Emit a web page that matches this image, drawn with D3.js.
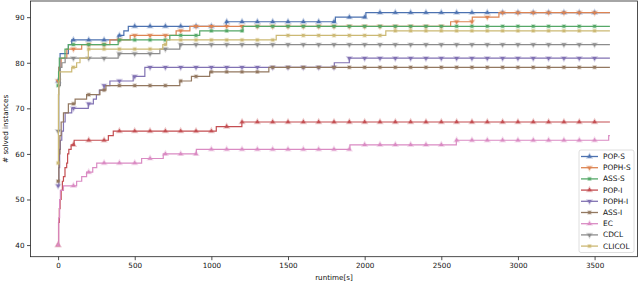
<!DOCTYPE html>
<html>
<head>
<meta charset="utf-8">
<script src="https://cdn.jsdelivr.net/npm/d3@7"></script>
<style>
  body { margin: 0; background: #fff; }
  text { font-family: "DejaVu Sans", sans-serif; }
</style>
</head>
<body>
<div id="chart"></div>
<script>
// solver names, in legend order
const names = ["POP-S", "POPH-S", "ASS-S", "POP-I", "POPH-I", "ASS-I", "EC", "CDCL", "CLICOL"];
const colors = ["#4C72B0", "#DD8452", "#55A868", "#C44E52", "#8172B3", "#937860", "#DA8BC3", "#8C8C8C", "#CCB974"];
const markers = ["up", "down", "square", "up", "down", "square", "up", "down", "square"];

// [runtime, solved] change points of each step curve
const popS = [[0,76],[5,79],[13,82],[67,84],[89,85],[392,86],[429,87],[458,88],[1097,89],[1809,90],[2008,91]];
const pophS = [[0,76],[5,79],[20,81],[57,83],[154,84],[338,85],[470,86],[770,87],[860,88],[2561,89],[2702,90],[2876,91]];
const assS = [[0,75],[3,78],[8,81],[45,83],[67,84],[392,85],[729,86],[924,87],[1206,88]];
const popI = [[0,40],[3,45],[8,48],[13,50],[20,52],[28,54],[35,55],[45,57],[56,58],[62,60],[70,61],[85,62],[105,63],[328,64],[360,65],[1032,66],[1199,67]];
const pophI = [[0,53],[5,57],[10,61],[15,63],[24,65],[35,67],[46,69],[89,70],[197,71],[230,72],[250,73],[269,74],[300,75],[338,76],[490,77],[566,79],[1802,80],[1900,81]];
const assI = [[0,54],[5,60],[12,64],[20,67],[35,69],[67,71],[111,72],[186,73],[273,74],[312,75],[794,76],[870,77],[989,78],[1375,79]];
const ec = [[0,40],[4,46],[10,50],[15,52],[35,53],[121,54],[154,55],[186,56],[226,57],[252,58],[545,59],[686,60],[902,61],[1904,62],[2598,63],[3592,64]];
const cdcl = [[0,65],[5,75],[15,79],[25,80],[46,81],[392,82],[664,83],[794,84]];
const clicol = [[0,58],[2,73],[5,76],[10,78],[89,79],[121,80],[143,81],[197,83],[683,84],[707,85],[1423,86],[2138,87]];

const seriesData = [popS, pophS, assS, popI, pophI, assI, ec, cdcl, clicol];
const timeLimit = 3600;
const markTimes = d3.range(0, 3600, 100);
const xTicks = [0, 500, 1000, 1500, 2000, 2500, 3000, 3500];
const yTicks = [40, 50, 60, 70, 80, 90];

const W = 640, H = 284;
const margin = { top: 1, right: 2.5, bottom: 27.3, left: 30.5 },
    width = W - margin.left - margin.right,
    height = H - margin.top - margin.bottom;

const svg = d3.select("#chart").append("svg")
    .attr("width", W).attr("height", H);
const g = svg.append("g")
    .attr("transform", `translate(${margin.left}, ${margin.top})`);

const x = d3.scaleLinear().domain([-180, 3780]).range([0, width]);
const y = d3.scaleLinear().domain([37.45, 93.55]).range([height, 0]);

// axes
const xAxis = g.append("g")
    .attr("transform", `translate(0, ${height})`)
    .call(d3.axisBottom(x).tickValues(xTicks).tickFormat(d3.format("d"))
        .tickSize(3.5).tickSizeOuter(0).tickPadding(2.5));
const yAxis = g.append("g")
    .call(d3.axisLeft(y).tickValues(yTicks).tickFormat(d3.format("d"))
        .tickSize(3.5).tickSizeOuter(0).tickPadding(2.5));
[xAxis, yAxis].forEach(a => {
    a.select(".domain").remove();
    a.selectAll("line").attr("stroke", "#222").attr("stroke-width", 0.8);
    a.selectAll("text").attr("font-size", 7.2).attr("fill", "#111")
        .style("font-family", "DejaVu Sans");
});

const symbolFor = m => d3.symbol().type(m === "square" ? d3.symbolSquare : d3.symbolTriangle).size(m === "square" ? 7 : 8)();
const rotFor = m => m === "down" ? " rotate(180)" : "";

function valueAt(pts, t) {
    let v = pts[0][1];
    for (const p of pts) { if (p[0] <= t) v = p[1]; }
    return v;
}

const line = d3.line().x(d => x(d[0])).y(d => y(d[1])).curve(d3.curveStepAfter);

seriesData.forEach((pts, i) => {
    const full = pts.concat([[timeLimit, pts[pts.length - 1][1]]]);
    const sg = g.append("g");
    sg.append("path")
        .datum(full)
        .attr("d", line)
        .attr("fill", "none")
        .attr("stroke", colors[i])
        .attr("stroke-width", 1.2);
    sg.selectAll("path.mk")
        .data(markTimes)
        .join("path")
        .attr("class", "mk")
        .attr("d", symbolFor(markers[i]))
        .attr("transform", t => `translate(${x(t)}, ${y(valueAt(pts, t))})${rotFor(markers[i])}`)
        .attr("fill", colors[i])
        .attr("stroke", colors[i])
        .attr("stroke-opacity", 0.3)
        .attr("stroke-width", 1.8);
});

// frame
g.append("rect")
    .attr("width", width).attr("height", height)
    .attr("fill", "none").attr("stroke", "#222").attr("stroke-width", 0.8);

// axis labels
svg.append("text")
    .attr("x", margin.left + width / 2).attr("y", 280)
    .attr("text-anchor", "middle").attr("font-size", 7.2).attr("fill", "#111")
    .text("runtime[s]");
svg.append("text")
    .attr("transform", `translate(7.5, ${margin.top + height / 2}) rotate(-90)`)
    .attr("text-anchor", "middle").attr("font-size", 7.2).attr("fill", "#111")
    .text("# solved instances");

// legend
const lg = svg.append("g").attr("transform", "translate(579, 150)");
lg.append("rect")
    .attr("width", 55).attr("height", 102.5).attr("rx", 2)
    .attr("fill", "#fff").attr("fill-opacity", 0.85)
    .attr("stroke", "#d5d5d5").attr("stroke-width", 0.8);
names.forEach((n, i) => {
    const row = lg.append("g").attr("transform", `translate(0, ${6.5 + i * 11.2})`);
    row.append("line").attr("x1", 2).attr("x2", 19)
        .attr("stroke", colors[i]).attr("stroke-width", 1.3);
    row.append("path").attr("d", symbolFor(markers[i]))
        .attr("transform", `translate(10.5, 0)${rotFor(markers[i])}`)
        .attr("fill", colors[i]).attr("stroke", colors[i])
        .attr("stroke-opacity", 0.3).attr("stroke-width", 1.8);
    row.append("text").attr("x", 24).attr("dy", "0.35em")
        .attr("font-size", 7.4).attr("fill", "#111").text(n);
});
</script>
</body>
</html>
